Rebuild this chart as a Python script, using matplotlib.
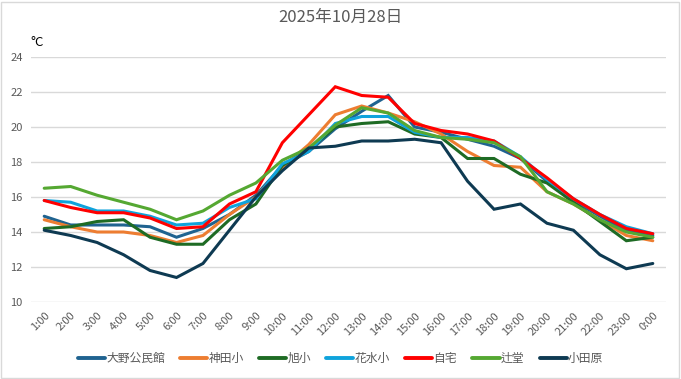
import matplotlib
matplotlib.use("Agg")
import matplotlib.pyplot as plt
from matplotlib.patches import Rectangle

plt.rcParams['font.family'] = ['Noto Sans CJK JP', 'DejaVu Sans']

hours = ["1:00", "2:00", "3:00", "4:00", "5:00", "6:00", "7:00", "8:00", "9:00", "10:00",
         "11:00", "12:00", "13:00", "14:00", "15:00", "16:00", "17:00", "18:00", "19:00",
         "20:00", "21:00", "22:00", "23:00", "0:00"]

ono = [14.9, 14.4, 14.4, 14.4, 14.3, 13.7, 14.2, 15.0, 16.1, 17.8, 18.6, 19.9, 20.9, 21.8,
       20.0, 19.7, 19.3, 18.9, 18.2, 16.9, 15.8, 14.9, 14.1, 13.8]
kanda = [14.7, 14.3, 14.0, 14.0, 13.8, 13.4, 13.8, 15.0, 16.0, 17.7, 19.0, 20.7, 21.2, 20.8,
         20.3, 19.6, 18.6, 17.8, 17.7, 16.3, 15.6, 14.7, 13.8, 13.5]
asahi = [14.2, 14.3, 14.6, 14.7, 13.7, 13.3, 13.3, 14.7, 15.6, 17.8, 18.7, 20.0, 20.2, 20.3,
         19.6, 19.4, 18.2, 18.2, 17.3, 16.8, 15.7, 14.6, 13.5, 13.7]
hanamizu = [15.8, 15.7, 15.2, 15.2, 14.9, 14.4, 14.5, 15.4, 15.9, 17.9, 18.6, 20.2, 20.6, 20.6,
            19.7, 19.4, 19.4, 19.2, 18.3, 17.0, 15.9, 15.0, 14.3, 13.9]
jitaku = [15.8, 15.4, 15.1, 15.1, 14.8, 14.2, 14.3, 15.6, 16.3, 19.1, 20.7, 22.3, 21.8, 21.7,
          20.2, 19.8, 19.6, 19.2, 18.2, 17.1, 15.9, 15.0, 14.2, 13.9]
tsujido = [16.5, 16.6, 16.1, 15.7, 15.3, 14.7, 15.2, 16.1, 16.8, 18.1, 18.8, 20.1, 21.1, 20.8,
           19.8, 19.4, 19.3, 19.1, 18.3, 16.3, 15.6, 14.7, 14.0, 13.7]
odawara = [14.1, 13.8, 13.4, 12.7, 11.8, 11.4, 12.2, 14.1, 16.0, 17.5, 18.8, 18.9, 19.2, 19.2,
           19.3, 19.1, 16.9, 15.3, 15.6, 14.5, 14.1, 12.7, 11.9, 12.2]

series_names = ["大野公民館", "神田小", "旭小", "花水小", "自宅", "辻堂", "小田原"]
series_values = [ono, kanda, asahi, hanamizu, jitaku, tsujido, odawara]
colors = ["#1F6390", "#ED7D31", "#1E6B24", "#0FA3DC", "#FF0000", "#55A832", "#0E3A52"]

yticks = [10, 12, 14, 16, 18, 20, 22, 24]

fig = plt.figure(figsize=(6.81, 3.79), dpi=100)
fig.patch.set_facecolor("white")
fig.patches.append(Rectangle((0.002, 0.003), 0.995, 0.993, transform=fig.transFigure,
                             fill=False, edgecolor="#D9D9D9", linewidth=1.0))

ax = fig.add_axes([0.0455, 0.2032, 0.9325, 0.6464])
x = list(range(len(hours)))
for name, vals, c in zip(series_names, series_values, colors):
    ax.plot(x, vals, color=c, linewidth=2.2, label=name, solid_capstyle="round",
            solid_joinstyle="miter")

ax.set_xlim(-0.5, len(hours) - 0.5)
ax.set_ylim(10, 24)
ax.set_yticks(yticks)
ax.set_yticklabels([str(v) for v in yticks])
ax.set_xticks(x)
ax.set_xticklabels(hours, rotation=45, ha="right", rotation_mode="anchor")
ax.tick_params(axis="both", length=0, labelsize=8, labelcolor="#595959")
ax.tick_params(axis="x", pad=6)
ax.tick_params(axis="y", pad=6)
ax.grid(axis="y", color="#D9D9D9", linewidth=1.0)
ax.set_axisbelow(True)
for s in ax.spines.values():
    s.set_visible(False)

fig.text(0.5, 0.953, "2025年10月28日", ha="center", va="center", fontsize=12, color="#595959")
fig.text(0.045, 0.887, "°C", ha="left", va="center", fontsize=9.5, color="#000000")

leg = fig.legend(loc="center", bbox_to_anchor=(0.5, 0.055), ncol=7, frameon=False,
                 fontsize=8.5, labelcolor="#595959", handlelength=2.3, handletextpad=0.1,
                 columnspacing=1.3)
for line in leg.get_lines():
    line.set_linewidth(2.8)

fig.savefig("out.png", dpi=100)
